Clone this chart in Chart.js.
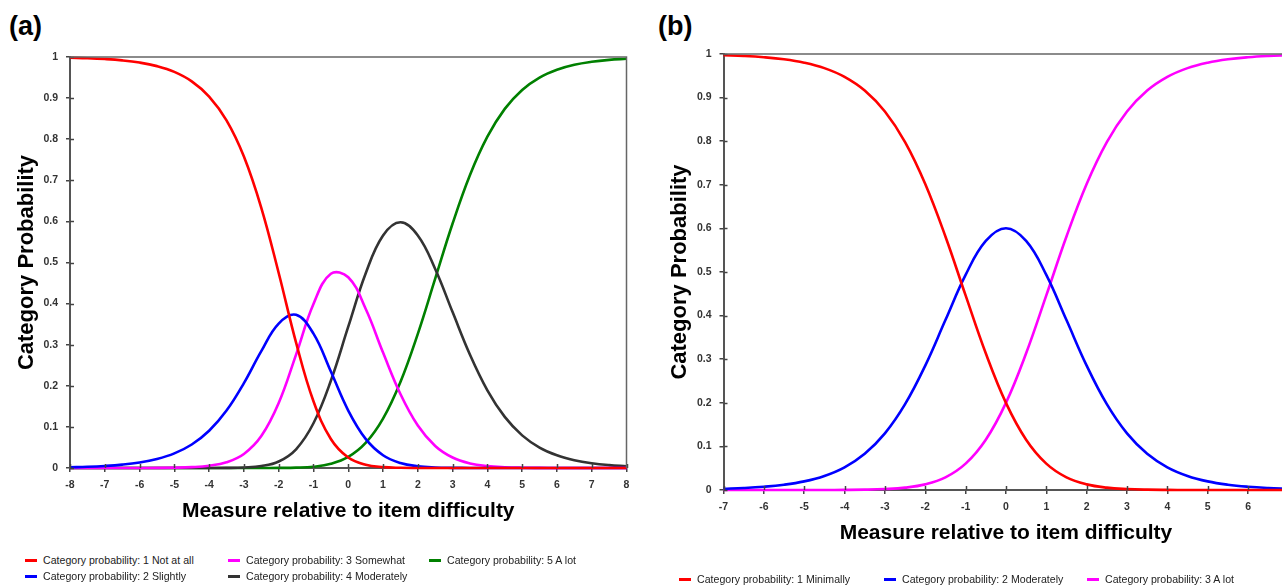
<!DOCTYPE html>
<html>
<head>
<meta charset="utf-8">
<script src="https://cdn.jsdelivr.net/npm/chart.js@4.4.1/dist/chart.umd.min.js"></script>
<style>
  html, body { margin:0; padding:0; background:#fff; }
  body { width:1282px; height:585px; overflow:hidden; position:relative; font-family:"Liberation Sans", Arial, sans-serif; }
  canvas { position:absolute; }
  .panel { position:absolute; font-weight:bold; font-size:27px; line-height:1; color:#000; }
  .leg { position:absolute; font-size:10.6px; color:#222; white-space:nowrap; line-height:1; }
  .leg i { position:absolute; left:-18px; top:4px; width:12px; height:3px; }
</style>
</head>
<body>
<div class="panel" style="left:9px; top:13px;">(a)</div>
<div class="panel" style="left:658px; top:13px;">(b)</div>
<canvas id="ca" width="640" height="530" style="left:0; top:0;"></canvas>
<canvas id="cb" width="660" height="560" style="left:640px; top:0;"></canvas>
<div id="legA"></div>
<div id="legB"></div>
<script>
// ---------- Panel (a) data ----------
const xA = [-8,-7.5,-7,-6.5,-6,-5.5,-5,-4.5,-4,-3.5,-3,-2.5,-2,-1.5,-1,-0.5,0,0.5,1,1.5,2,2.5,3,3.5,4,4.5,5,5.5,6,6.5,7,7.5,8];
const redA = [0.9982,0.9970,0.9950,0.9918,0.9865,0.9778,0.9637,0.9407,0.9038,0.8459,0.7580,0.6332,0.4745,0.3050,0.1623,0.0707,0.0255,0.0078,0.0021,0.0005,0.0001,0,0,0,0,0,0,0,0,0,0,0,0];
const blueA = [0.0018,0.0030,0.0050,0.0082,0.0134,0.0219,0.0355,0.0572,0.0906,0.1398,0.2066,0.2845,0.3515,0.3726,0.3268,0.2346,0.1398,0.0708,0.0311,0.0121,0.0042,0.0013,0.0004,0.0001,0,0,0,0,0,0,0,0,0];
const magentaA = [0,0,0,0,0.0001,0.0003,0.0008,0.0021,0.0055,0.0140,0.0341,0.0776,0.1580,0.2760,0.3991,0.4724,0.4641,0.3874,0.2809,0.1801,0.1034,0.0537,0.0255,0.0112,0.0047,0.0019,0.0007,0.0003,0.0001,0,0,0,0];
const blackA = [0,0,0,0,0,0,0,0,0.0001,0.0003,0.0013,0.0047,0.0158,0.0456,0.1088,0.2123,0.3438,0.4731,0.5657,0.5980,0.5658,0.4843,0.3793,0.2757,0.1891,0.1243,0.0794,0.0497,0.0308,0.0189,0.0115,0.0070,0.0043];
const greenA = [0,0,0,0,0,0,0,0,0,0,0,0,0.0002,0.0008,0.0031,0.0101,0.0268,0.0609,0.1201,0.2093,0.3265,0.4607,0.5948,0.7129,0.8062,0.8738,0.9199,0.9500,0.9691,0.9811,0.9884,0.9930,0.9957];
const labelsA = ["Category probability: 1 Not at all","Category probability: 2 Slightly","Category probability: 3 Somewhat","Category probability: 4 Moderately","Category probability: 5 A lot"];

// ---------- Panel (b) data ----------
const xB = [-7,-6.5,-6,-5.5,-5,-4.5,-4,-3.5,-3,-2.5,-2,-1.5,-1,-0.5,0,0.5,1,1.5,2,2.5,3,3.5,4,4.5,5,5.5,6,6.5,7];
const redB = [0.9973,0.9955,0.9926,0.9879,0.9801,0.9676,0.9475,0.9161,0.8680,0.7979,0.7018,0.5814,0.4463,0.3135,0.1998,0.1153,0.0604,0.0289,0.0129,0.0054,0.0022,0.0008,0.0003,0.0001,0,0,0,0,0];
const blueB = [0.0027,0.0045,0.0074,0.0121,0.0198,0.0323,0.0521,0.0831,0.1298,0.1968,0.2853,0.3897,0.4933,0.5712,0.6003,0.5712,0.4933,0.3897,0.2853,0.1968,0.1298,0.0831,0.0521,0.0323,0.0198,0.0121,0.0074,0.0045,0.0027];
const magentaB = [0,0,0,0,0,0.0001,0.0003,0.0008,0.0022,0.0054,0.0129,0.0289,0.0604,0.1153,0.1998,0.3135,0.4463,0.5814,0.7018,0.7979,0.8680,0.9161,0.9475,0.9676,0.9801,0.9879,0.9926,0.9955,0.9973];
const labelsB = ["Category probability: 1 Minimally","Category probability: 2 Moderately","Category probability: 3 A lot"];

const colA = ["#ff0000","#0000ff","#ff00ff","#333333","#008000"];
const colB = ["#ff0000","#0000ff","#ff00ff"];

function pts(xs, ys){ return xs.map((x,i)=>({x:x, y:ys[i]})); }

const crossTicks = {
  id:'crossTicks',
  afterDraw(chart){
    const ctx = chart.ctx, a = chart.chartArea, sx = chart.scales.x, sy = chart.scales.y;
    ctx.save();
    ctx.strokeStyle = '#444'; ctx.lineWidth = 1.5;
    sx.ticks.forEach(t=>{ const p = Math.round(sx.getPixelForValue(t.value))+0.5; ctx.beginPath(); ctx.moveTo(p, a.bottom); ctx.lineTo(p, a.bottom-4); ctx.stroke(); });
    sy.ticks.forEach(t=>{ const p = Math.round(sy.getPixelForValue(t.value))+0.5; ctx.beginPath(); ctx.moveTo(a.left, p); ctx.lineTo(a.left+4, p); ctx.stroke(); });
    ctx.strokeStyle = '#666'; ctx.lineWidth = 1.5;
    ctx.beginPath(); ctx.moveTo(a.left, a.top); ctx.lineTo(a.right, a.top); ctx.lineTo(a.right, a.bottom); ctx.stroke();
    ctx.restore();
  }
};

function makeChart(id, xs, series, colors, labels, opt){
  const datasets = series.map((s,i)=>({
    label: labels[i], data: pts(xs, s), borderColor: colors[i], backgroundColor: colors[i],
    borderWidth: 2.6, pointRadius: 0, tension: 0.4, fill: false, clip: 4
  }));
  return new Chart(document.getElementById(id), {
    type: 'line',
    data: { datasets },
    plugins: [crossTicks],
    options: {
      responsive: false, animation: false, devicePixelRatio: 1,
      layout: { padding: { left: 0, top: opt.top, right: opt.right, bottom: 0 } },
      plugins: { legend: { display: false }, tooltip: { enabled: false } },
      scales: {
        x: {
          type: 'linear', min: opt.xmin, max: opt.xmax,
          ticks: { stepSize: 1, autoSkip: false, maxRotation: 0, padding: 7, color: '#333', font: { family: 'Liberation Sans', size: 10.5, weight: 'bold' } },
          grid: { display: true, drawOnChartArea: false, drawTicks: true, tickLength: 4, color: '#444', lineWidth: 1.5 },
          border: { display: true, color: '#555', width: 2 },
          title: { display: true, text: 'Measure relative to item difficulty', color: '#000', font: { family: 'Liberation Sans', size: 21, weight: 'bold' }, padding: { top: 0, bottom: opt.xtitlePad } },
          afterFit(s){ s.height = opt.xh; }
        },
        y: {
          type: 'linear', min: 0, max: 1,
          ticks: { stepSize: 0.1, padding: 8, color: '#333', font: { family: 'Liberation Sans', size: 10.5, weight: 'bold' }, callback: v => String(+v.toFixed(1)) },
          grid: { display: true, drawOnChartArea: false, drawTicks: true, tickLength: 4, color: '#444', lineWidth: 1.5 },
          border: { display: true, color: '#555', width: 2 },
          title: { display: true, text: 'Category Probability', color: '#000', font: { family: 'Liberation Sans', size: 22, weight: 'bold' }, padding: { top: opt.ytitlePad, bottom: 0 } },
          afterFit(s){ s.width = opt.yw; }
        }
      }
    }
  });
}

makeChart('ca', xA, [redA, blueA, magentaA, blackA, greenA], colA, labelsA,
  { top: 57, right: 13.5, xmin: -8, xmax: 8, xh: 62, yw: 70, xtitlePad: 6.4, ytitlePad: 13.8 });
makeChart('cb', xB, [redB, blueB, magentaB], colB, labelsB,
  { top: 54, right: 11.6, xmin: -7, xmax: 7, xh: 70, yw: 83.5, xtitlePad: 14.4, ytitlePad: 26.8 });

// HTML legends
const legPosA = [[43,555],[43,571],[246,555],[246,571],[447,555]];
const legA = document.getElementById('legA');
labelsA.forEach((t,i)=>{
  const d = document.createElement('div'); d.className = 'leg';
  d.style.left = legPosA[i][0]+'px'; d.style.top = legPosA[i][1]+'px';
  d.innerHTML = '<i style="background:'+colA[i]+'"></i>' + t;
  legA.appendChild(d);
});
const legPosB = [[697,574],[902,574],[1105,574]];
const legB = document.getElementById('legB');
labelsB.forEach((t,i)=>{
  const d = document.createElement('div'); d.className = 'leg';
  d.style.left = legPosB[i][0]+'px'; d.style.top = legPosB[i][1]+'px';
  d.innerHTML = '<i style="background:'+colB[i]+'"></i>' + t;
  legB.appendChild(d);
});
</script>
</body>
</html>
